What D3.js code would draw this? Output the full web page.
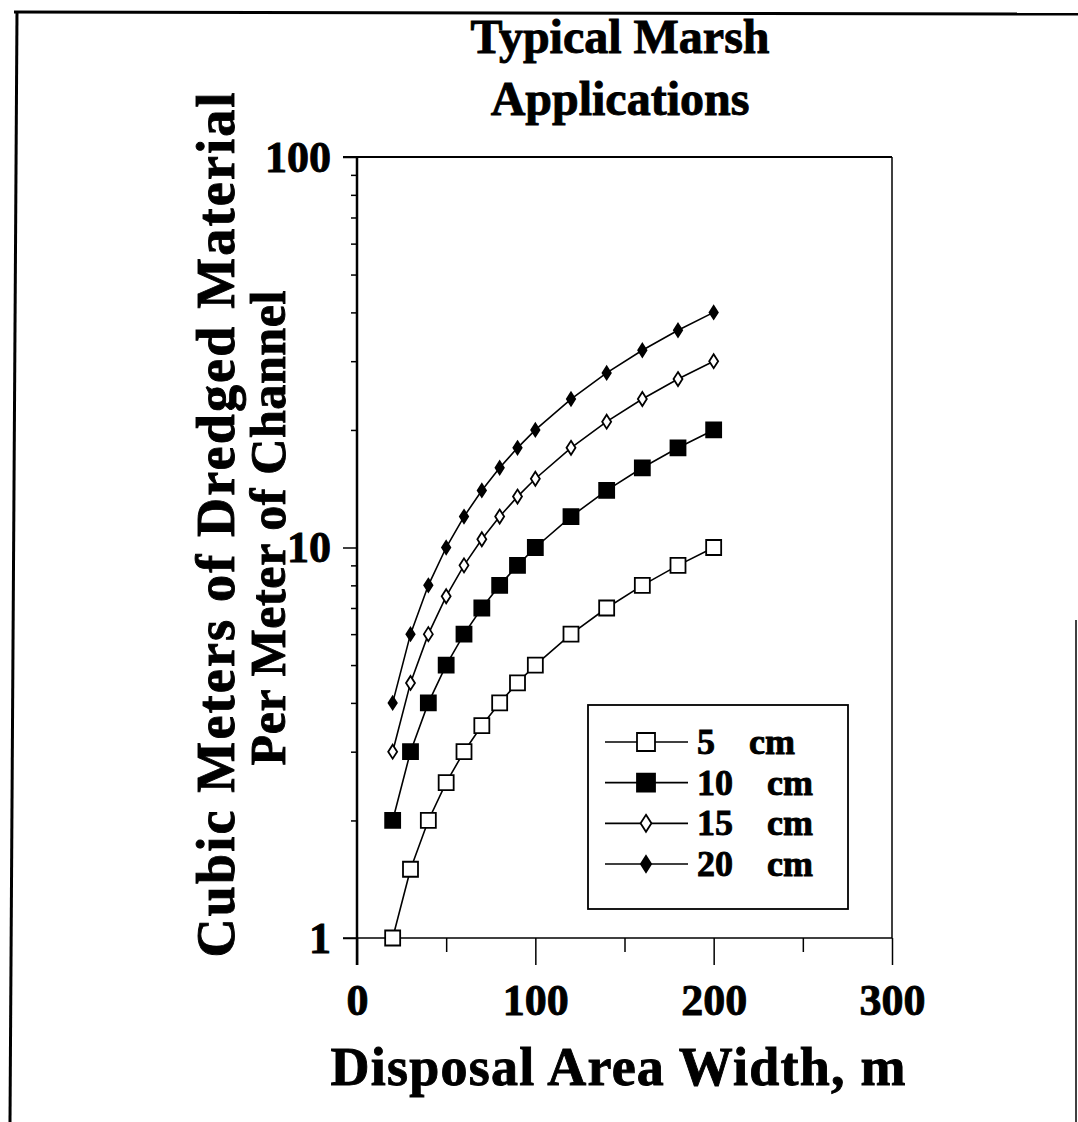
<!DOCTYPE html>
<html><head><meta charset="utf-8">
<script src="https://cdn.jsdelivr.net/npm/d3@7"></script>
<style>
body{margin:0;background:#fff}
text{font-family:"Liberation Serif","Times New Roman",serif;font-weight:bold;fill:#000;stroke:#000;stroke-width:0.9px}
</style>
</head><body>
<svg id="c" width="1078" height="1122"></svg>
<script>
// ---- data ----
const widths   = [20,30,40,50,60,70,80,90,100,120,140,160,180,200];
const depth5   = [1,1.5,2,2.5,3,3.5,4,4.5,5,6,7,8,9,10];
const depth10  = [2,3,4,5,6,7,8,9,10,12,14,16,18,20];
const depth15  = [3,4.5,6,7.5,9,10.5,12,13.5,15,18,21,24,27,30];
const depth20  = [4,6,8,10,12,14,16,18,20,24,28,32,36,40];
const seriesNames = ["5  cm","10  cm","15  cm","20  cm"];
const xMajorTicks = [0,100,200,300];
const xMinorTicks = [50,150,250];
const yMajorTicks = [1,10,100];
const yMinorTicks = [2,3,4,5,6,7,8,9,20,30,40,50,60,70,80,90];
const titleLines = ["Typical Marsh","Applications"];
const yTitleLines = ["Cubic Meters of Dredged Material","Per Meter of Channel"];
const xTitle = "Disposal Area Width, m";

const svg = d3.select("#c");
const L = 357, R = 892, T = 157, B = 938;
const x = d3.scaleLinear().domain([0,300]).range([L,R]);
const y = d3.scaleLog().domain([1,100]).range([B,T]);

// outer frame
svg.append("line").attr("x1",14).attr("x2",1078).attr("y1",12).attr("y2",14).attr("stroke","#000").attr("stroke-width",3);
svg.append("line").attr("x1",17).attr("x2",10).attr("y1",11).attr("y2",1122).attr("stroke","#000").attr("stroke-width",3);
svg.append("line").attr("x1",1076).attr("x2",1076).attr("y1",620).attr("y2",1122).attr("stroke","#000").attr("stroke-width",1.5);

// title
svg.append("text").attr("x",620).attr("y",53).attr("text-anchor","middle").style("font-size","48px").text(titleLines[0]);
svg.append("text").attr("x",620).attr("y",115).attr("text-anchor","middle").style("font-size","48px").text(titleLines[1]);

// plot frame lines (top and right)
svg.append("line").attr("x1",L-14).attr("x2",R).attr("y1",T).attr("y2",T).attr("stroke","#000").attr("stroke-width",2);
svg.append("line").attr("x1",R).attr("x2",R).attr("y1",T).attr("y2",B).attr("stroke","#000").attr("stroke-width",1.5);

// x axis
const gx = svg.append("g").attr("transform",`translate(0,${B})`)
  .call(d3.axisBottom(x).tickValues(xMajorTicks).tickSize(27).tickPadding(19).tickFormat(d3.format("d")));
gx.select(".domain").remove();
gx.selectAll("line").attr("stroke-width",1.5);
gx.selectAll("text").style("font-size","44px").style("font-family",null).attr("fill",null);
const gxm = svg.append("g").attr("transform",`translate(0,${B})`)
  .call(d3.axisBottom(x).tickValues(xMinorTicks).tickSize(14).tickFormat(""));
gxm.select(".domain").remove();
gxm.selectAll("line").attr("stroke-width",1.5);
svg.append("line").attr("x1",L-14).attr("x2",R).attr("y1",B).attr("y2",B).attr("stroke","#000").attr("stroke-width",1.5);

// y axis
const gy = svg.append("g").attr("transform",`translate(${L},0)`)
  .call(d3.axisLeft(y).tickValues(yMajorTicks).tickSize(14).tickPadding(12).tickFormat(d3.format("d")));
gy.select(".domain").remove();
gy.selectAll("line").attr("stroke-width",1.5);
gy.selectAll("text").style("font-size","44px").style("font-family",null).attr("fill",null);
const gym = svg.append("g").attr("transform",`translate(${L},0)`)
  .call(d3.axisLeft(y).tickValues(yMinorTicks).tickSize(6).tickFormat(""));
gym.select(".domain").remove();
gym.selectAll("line").attr("stroke-width",1.5);
svg.append("line").attr("x1",L).attr("x2",L).attr("y1",T).attr("y2",B+27).attr("stroke","#000").attr("stroke-width",2.5);

// axis titles
svg.append("text").attr("x",618).attr("y",1085).attr("text-anchor","middle").style("font-size","54px")
  .attr("textLength",575).attr("lengthAdjust","spacing").text(xTitle);
svg.append("text").attr("transform","translate(234,525) rotate(-90)").attr("text-anchor","middle").style("font-size","54px")
  .attr("textLength",865).attr("lengthAdjust","spacing").text(yTitleLines[0]);
svg.append("text").attr("transform","translate(285,528) rotate(-90)").attr("text-anchor","middle").style("font-size","50px")
  .attr("textLength",475).attr("lengthAdjust","spacing").text(yTitleLines[1]);

// series
const series = [
  {name:seriesNames[0], vals:depth5,  shape:"square",  fill:"#fff", size:15},
  {name:seriesNames[1], vals:depth10, shape:"square",  fill:"#000", size:15},
  {name:seriesNames[2], vals:depth15, shape:"diamond", fill:"#fff", size:14},
  {name:seriesNames[3], vals:depth20, shape:"diamond", fill:"#000", size:13}
];
function markerPath(shape,s){
  if(shape==="square"){const h=s/2;return `M${-h},${-h}H${h}V${h}H${-h}Z`;}
  const hy=s/2, hx=s*0.32; return `M0,${-hy}L${hx},0L0,${hy}L${-hx},0Z`;
}
const line = d3.line().x(d=>x(d[0])).y(d=>y(d[1]));
series.forEach(s=>{
  const pts = widths.map((w,i)=>[w,s.vals[i]]);
  svg.append("path").datum(pts).attr("d",line).attr("fill","none").attr("stroke","#000").attr("stroke-width",1.6);
  svg.selectAll(null).data(pts).enter().append("path")
    .attr("transform",d=>`translate(${x(d[0])},${y(d[1])})`)
    .attr("d",markerPath(s.shape,s.size)).attr("fill",s.fill).attr("stroke","#000").attr("stroke-width",1.8);
});

// legend
const lg = svg.append("g");
lg.append("rect").attr("x",588).attr("y",705).attr("width",260).attr("height",204).attr("fill","#fff").attr("stroke","#000").attr("stroke-width",1.8);
const rowY = d3.scalePoint().domain(seriesNames).range([742,864]);
series.forEach(s=>{
  const cy = rowY(s.name);
  lg.append("line").attr("x1",605).attr("x2",688).attr("y1",cy).attr("y2",cy).attr("stroke","#000").attr("stroke-width",1.6);
  lg.append("path").attr("transform",`translate(646,${cy})`).attr("d",markerPath(s.shape,s.size+3))
    .attr("fill",s.fill).attr("stroke","#000").attr("stroke-width",1.8);
  lg.append("text").attr("x",697).attr("y",cy+12).style("font-size","36px").style("white-space","pre")
    .style("word-spacing","8px").text(s.name);
});
</script>
</body></html>
